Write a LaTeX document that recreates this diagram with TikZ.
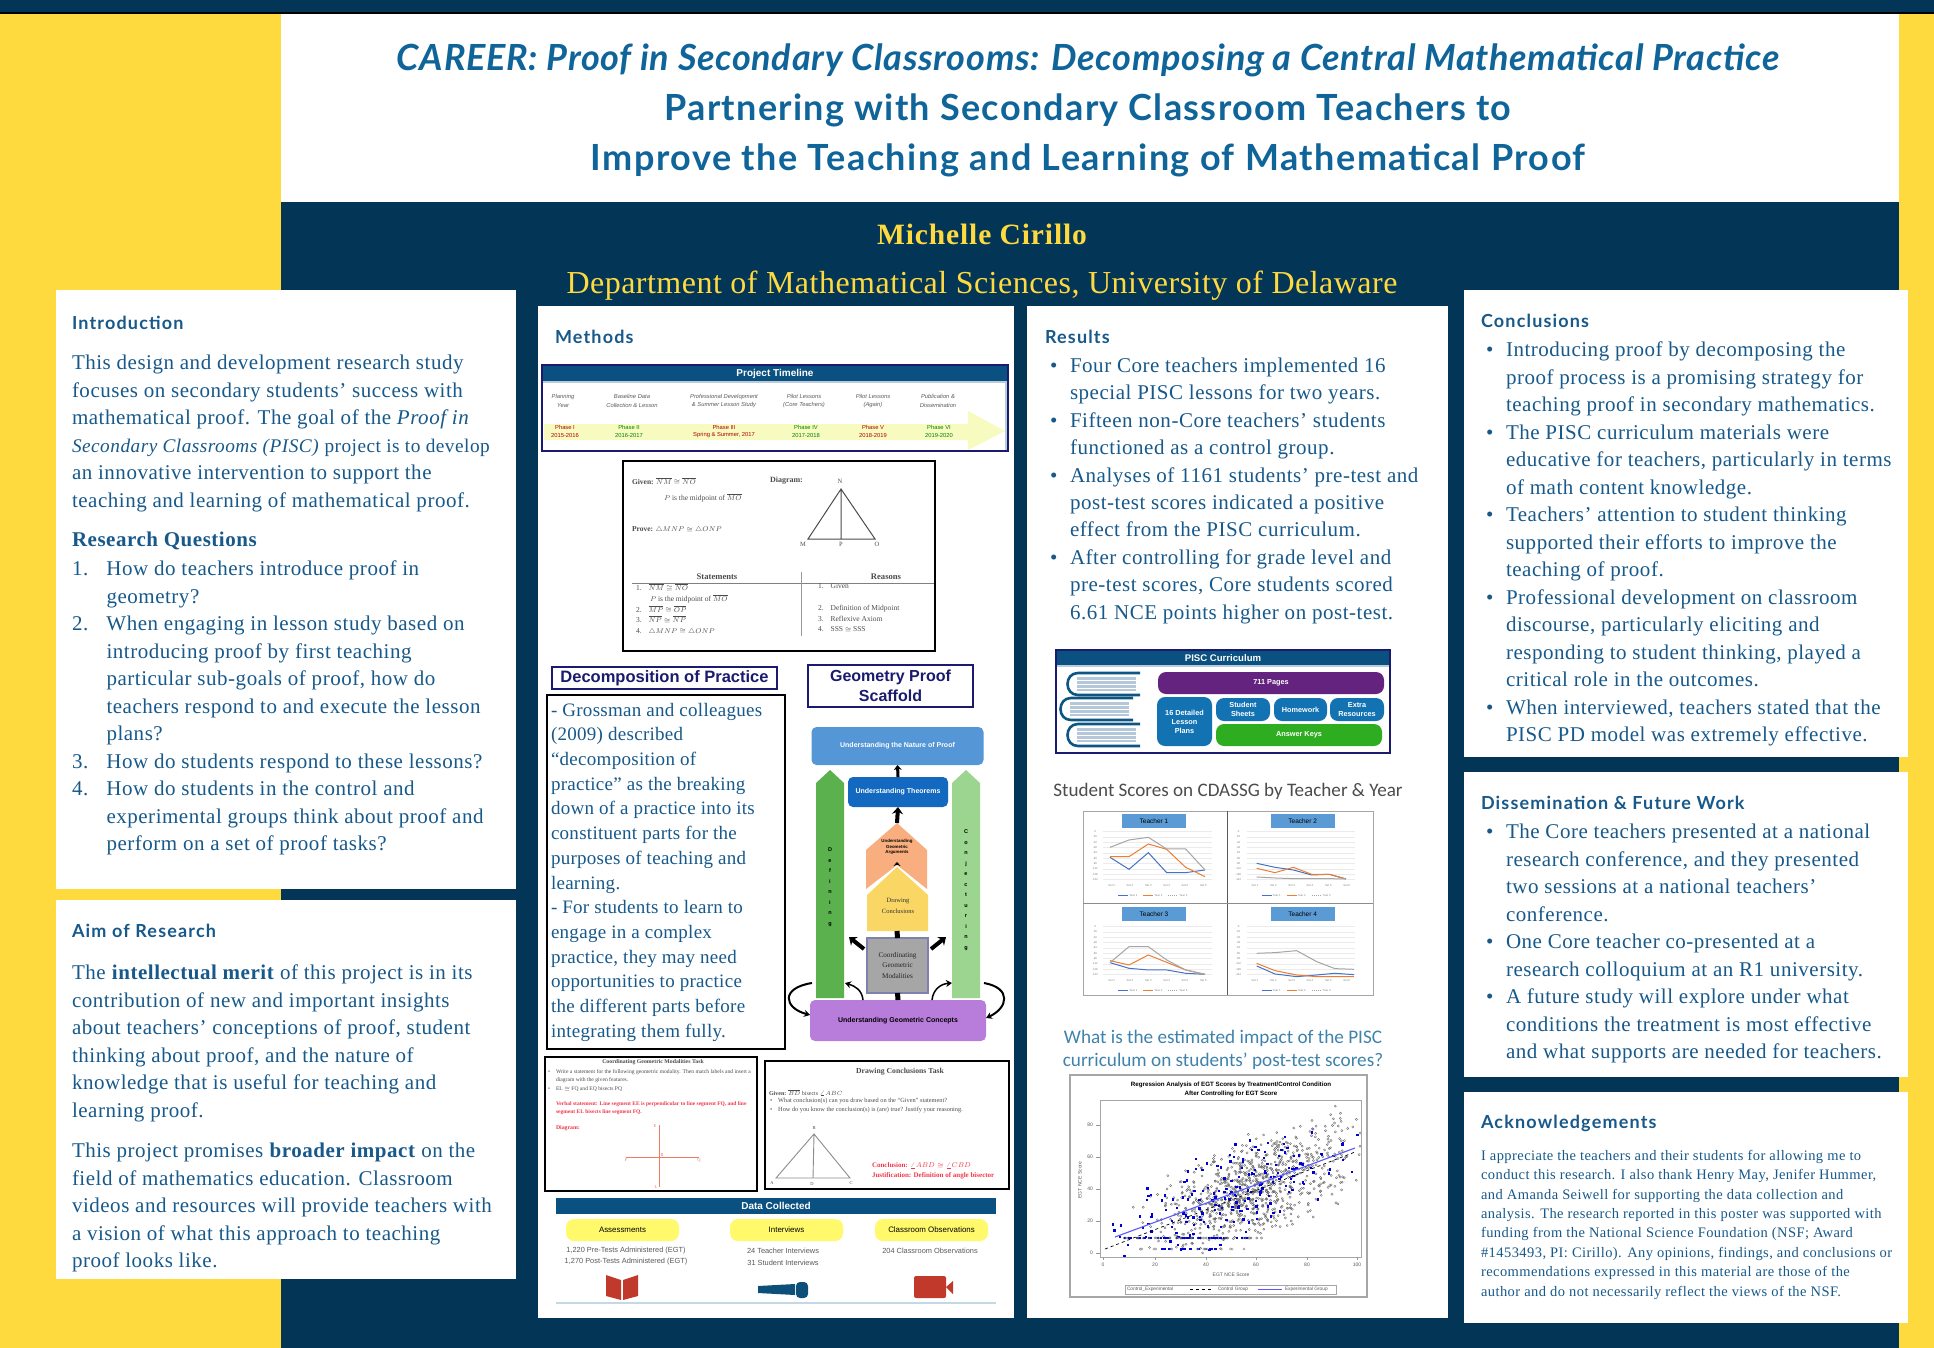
\documentclass[tikz,border=0pt]{standalone}
\usepackage{amsmath}
\usepackage{fontspec}
\setmainfont{Liberation Serif}
\setsansfont{Liberation Sans}
\newfontfamily\headfont[LetterSpace=6.5]{Lato}
\newfontfamily\calfont{Carlito}
\newfontfamily\titlefonta[LetterSpace=2]{Lato}
\newfontfamily\titlefontb[LetterSpace=3.6]{Lato}
\newfontfamily\titlefontc[LetterSpace=4.2]{Lato}
\newfontfamily\bodyfont[LetterSpace=2.5]{Liberation Serif}
\newfontfamily\decompfont[LetterSpace=1.5]{Liberation Serif}
\newfontfamily\ackfont[LetterSpace=3]{Liberation Serif}
\newfontfamily\authorfont[LetterSpace=3]{Liberation Serif}
\newfontfamily\deptfont[LetterSpace=1.5]{Liberation Serif}
\usetikzlibrary{arrows.meta}
\usetikzlibrary{calc}

\definecolor{posternavy}{HTML}{033557}
\definecolor{posteryellow}{HTML}{FFDA3F}
\definecolor{postertext}{HTML}{17598A}
\definecolor{titleblue}{HTML}{0F6499}
\definecolor{bandblue}{HTML}{0A5080}
\definecolor{framenavy}{HTML}{1A1A6E}
\definecolor{pillyellow}{HTML}{FFF96B}
\definecolor{paleyellow}{HTML}{F7FBC0}
\definecolor{taskred}{HTML}{F0384A}
\definecolor{crossred}{HTML}{EE7B62}
\definecolor{iconred}{HTML}{C0392B}
\definecolor{chartblue}{HTML}{4472C4}
\definecolor{chartorange}{HTML}{ED7D31}
\definecolor{chartgray}{HTML}{A5A5A5}
\definecolor{btnblue}{HTML}{5B9BD5}
\definecolor{sepgray}{HTML}{B9CCDC}
\definecolor{leftgreen}{HTML}{5CB14F}
\definecolor{rightgreen}{HTML}{9BD58F}
\definecolor{houseorange}{HTML}{F8AE7E}
\definecolor{houseyellow}{HTML}{FAD765}
\definecolor{topblue}{HTML}{5496D6}
\definecolor{midblue}{HTML}{1269BF}
\definecolor{basepurple}{HTML}{B87CDA}
\definecolor{curepurple}{HTML}{63237F}
\definecolor{cureblue}{HTML}{1272B2}
\definecolor{curegreen}{HTML}{2EAD20}
\definecolor{pagegray}{HTML}{B4C8DA}
\definecolor{ruleblue}{HTML}{C5D8E5}

\newcommand{\blit}{\makebox[20pt][l]{\textbullet}}
\newcommand{\blin}{\hspace*{20pt}}
\newcommand{\nlit}[1]{\makebox[34.5pt][l]{#1}}
\newcommand{\nlin}{\hspace*{34.5pt}}

\tikzset{
    every node/.style={inner sep=0pt,outer sep=0pt},
    heading/.style={anchor=west,font=\headfont\bfseries\fontsize{18}{20}\selectfont,text=postertext},
    bodytext/.style={anchor=north west,align=left,text=postertext,font=\bodyfont\fontsize{21}{27.5}\selectfont},
    decomptext/.style={anchor=north west,align=left,text=postertext,font=\decompfont\fontsize{19}{24.7}\selectfont},
    acktext/.style={anchor=north west,align=left,text=postertext,font=\ackfont\fontsize{14.5}{19.4}\selectfont},
    framebox/.style={draw=framenavy,line width=2pt,fill=white},
    blackbox/.style={draw=black,line width=2.4pt,fill=white},
    boxtitle/.style={font=\sffamily\bfseries,text=framenavy,align=center},
    tiny/.style={font=\fontsize{5}{8}\selectfont,text=black!70,align=left},
    tinysans/.style={font=\sffamily\fontsize{5.4}{8}\selectfont,text=black!65,align=center},
    redtiny/.style={font=\bfseries\fontsize{5.5}{7.5}\selectfont,text=taskred,align=left},
    band/.style={fill=bandblue,text=white,font=\sffamily\bfseries\fontsize{10}{12}\selectfont},
    block/.style={rounded corners=5pt,align=center,font=\sffamily\bfseries\fontsize{7}{9}\selectfont},
    cureblock/.style={block,text=white,font=\sffamily\bfseries\fontsize{7.3}{9}\selectfont,rounded corners=8pt},
    fatarrow/.style={line width=4pt,-{Stealth[length=7pt,width=11pt]}},
    curlarrow/.style={line width=2pt,-{Stealth[length=6pt,width=7pt]}},
    pill/.style={fill=pillyellow,rounded corners=8pt,minimum width=113pt,minimum height=22pt,font=\sffamily\fontsize{7.9}{9}\selectfont},
    teacherbtn/.style={fill=btnblue,minimum width=64pt,minimum height=14pt,font=\sffamily\fontsize{6.5}{7}\selectfont},
    charttick/.style={font=\sffamily\fontsize{2.8}{3}\selectfont,text=black!50},
    serblue/.style={chartblue,line width=1pt},
    serorange/.style={chartorange,line width=1pt},
    sergray/.style={chartgray,line width=1pt},
}

\begin{document}
\begin{tikzpicture}[x=1pt,y=-1pt]
    \useasboundingbox (0,0) rectangle (1934,1348);
    % backgrounds
    \fill[posternavy] (0,0) rectangle (1934,1348);
    \fill[black] (0,12) rectangle (1934,14);
    \fill[posteryellow] (0,14) rectangle (281,1348);
    \fill[posteryellow] (1899,14) rectangle (1934,1348);
    \fill[white] (281,14) rectangle (1899,202);

    % title
    \node[text=titleblue,font=\titlefonta\bfseries\itshape\fontsize{36}{40}\selectfont] (title1) at (1088,60) {CAREER: Proof in Secondary Classrooms: Decomposing a Central Mathematical Practice};
    \node[text=titleblue,font=\titlefontb\bfseries\fontsize{36}{40}\selectfont] (title2) at (1088,110) {Partnering with Secondary Classroom Teachers to};
    \node[text=titleblue,font=\titlefontc\bfseries\fontsize{36}{40}\selectfont] (title3) at (1088,160) {Improve the Teaching and Learning of Mathematical Proof};
    \node[text=posteryellow,font=\authorfont\bfseries\fontsize{29.5}{32}\selectfont] (author) at (982,234) {Michelle Cirillo};
    \node[text=posteryellow,font=\deptfont\fontsize{32}{36}\selectfont] (dept) at (982,286) {Department of Mathematical Sciences, University of Delaware};

    % panels
    \fill[white] (56,290) rectangle (516,889);
    \fill[white] (56,900) rectangle (516,1279);
    \fill[white] (538,306) rectangle (1014,1318);
    \fill[white] (1027,306) rectangle (1448,1318);
    \fill[white] (1464,290) rectangle (1908,757);
    \fill[white] (1464,772) rectangle (1908,1077);
    \fill[white] (1464,1092) rectangle (1908,1323);

    % introduction
    \node[heading] (intro) at (72,323) {Introduction};
    \node[bodytext] (introbody) at (72,355) {This design and development research study\\
        focuses on secondary students’ success with\\
        mathematical proof. The goal of the \textit{Proof in}\\
        {\fontsize{19.3}{27.5}\selectfont\textit{Secondary Classrooms (PISC)} project is to develop}\\
        an innovative intervention to support the\\
        teaching and learning of mathematical proof.};
    \node[bodytext,font=\bodyfont\bfseries\fontsize{21}{27.5}\selectfont] (rq) at (72,532) {Research Questions};
    \node[bodytext] (rqbody) at (72,561) {\nlit{1.}How do teachers introduce proof in\\
        \nlin geometry?\\
        \nlit{2.}When engaging in lesson study based on\\
        \nlin introducing proof by first teaching\\
        \nlin particular sub-goals of proof, how do\\
        \nlin teachers respond to and execute the lesson\\
        \nlin plans?\\
        \nlit{3.}How do students respond to these lessons?\\
        \nlit{4.}How do students in the control and\\
        \nlin experimental groups think about proof and\\
        \nlin perform on a set of proof tasks?};

    % aim
    \node[heading] (aim) at (72,931) {Aim of Research};
    \node[bodytext] (aimbody1) at (72,965) {The \textbf{intellectual merit} of this project is in its\\
        contribution of new and important insights\\
        about teachers’ conceptions of proof, student\\
        thinking about proof, and the nature of\\
        knowledge that is useful for teaching and\\
        learning proof.};
    \node[bodytext] (aimbody2) at (72,1143) {This project promises \textbf{broader impact} on the\\
        field of mathematics education. Classroom\\
        videos and resources will provide teachers with\\
        a vision of what this approach to teaching\\
        proof looks like.};

    % methods
    \node[heading] (methods) at (555,337) {Methods};
    \draw[framebox] (542,365) rectangle (1008,451);
    \node[band,minimum width=464pt,minimum height=15pt] (tlband) at (775,373.5) {Project Timeline};
    \fill[sepgray] (543,381) rectangle (1007,383);
    \fill[sepgray] (1005,383) rectangle (1007,450);
    \fill[paleyellow] (544,424) -- (968,424) -- (968,411) -- (1005,431) -- (968,450) -- (968,440) -- (544,440) -- cycle;
    \foreach \tx/\tname/\px/\pname/\pcol in {563/{Planning\\Year}/565/{Phase I\\2015-2016}/red!70!black,
        632/{Baseline Data\\Collection \& Lesson}/629/{Phase II\\2016-2017}/green!50!black,
        724/{Professional Development\\\& Summer Lesson Study}/724/{Phase III\\Spring \& Summer, 2017}/red!70!black,
        804/{Pilot Lessons\\(Core Teachers)}/806/{Phase IV\\2017-2018}/green!50!black,
        873/{Pilot Lessons\\(Again)}/873/{Phase V\\2018-2019}/red!70!black,
        938/{Publication \&\\Dissemination}/939/{Phase VI\\2019-2020}/green!50!black}{
        \node[tinysans,font=\sffamily\itshape\fontsize{5.8}{8.6}\selectfont] (tl\tx) at (\tx,401) {\tname};
        \node[tinysans,text=\pcol,font=\sffamily\fontsize{5.8}{7.6}\selectfont] (ph\px) at (\px,431.5) {\pname};
    }

    % two column proof
    \draw[blackbox] (623,461) rectangle (935,651);
    \node[tiny,anchor=west,font=\fontsize{7.5}{9}\selectfont] (given) at (632,481) {\textbf{Given:} $\overline{NM}\cong\overline{NO}$};
    \node[tiny,anchor=west,font=\fontsize{7.5}{9}\selectfont] (midp) at (664,498) {$P$ is the midpoint of $\overline{MO}$};
    \node[tiny,anchor=west,font=\fontsize{7.5}{9}\selectfont] (prove) at (632,530) {\textbf{Prove:} $\triangle MNP\cong\triangle ONP$};
    \node[tiny,anchor=west,font=\bfseries\fontsize{8}{9}\selectfont] (diag) at (770,481) {Diagram:};
    \coordinate (triN) at (841,489);
    \coordinate (triM) at (808,539);
    \coordinate (triO) at (875,539);
    \coordinate (triP) at (841,539);
    \draw[black!70,line width=1pt] (triN) -- (triM) -- (triO) -- cycle (triN) -- (triP);
    \node[tiny,font=\fontsize{6.5}{8}\selectfont] (labN) at (840,481) {N};
    \node[tiny,font=\fontsize{6.5}{8}\selectfont] (labM) at (803,544) {M};
    \node[tiny,font=\fontsize{6.5}{8}\selectfont] (labP) at (841,544) {P};
    \node[tiny,font=\fontsize{6.5}{8}\selectfont] (labO) at (877,544) {O};
    \node[tiny,font=\bfseries\fontsize{8.6}{9}\selectfont] (stmts) at (717,577) {Statements};
    \node[tiny,font=\bfseries\fontsize{8.6}{9}\selectfont] (reasons) at (886,577) {Reasons};
    \draw[black!50] (632,583) -- (934,583);
    \draw[black!40] (801,572) -- (801,636);
    \node[tiny,anchor=north west,font=\fontsize{7.5}{10.7}\selectfont] (stlist) at (636,584) {1.\hspace{7pt}$\overline{NM}\cong\overline{NO}$\\
        \hspace{14pt}$P$ is the midpoint of $\overline{MO}$\\
        2.\hspace{7pt}$\overline{MP}\cong\overline{OP}$\\
        3.\hspace{7pt}$\overline{NP}\cong\overline{NP}$\\
        4.\hspace{7pt}$\triangle MNP\cong\triangle ONP$};
    \node[tiny,anchor=north west,font=\fontsize{7.5}{10.7}\selectfont] (rslist) at (818,584) {1.\hspace{7pt}Given\\
        \mbox{}\\
        2.\hspace{7pt}Definition of Midpoint\\
        3.\hspace{7pt}Reflexive Axiom\\
        4.\hspace{7pt}SSS $\cong$ SSS};

    % decomposition
    \node[framebox,boxtitle,font=\sffamily\bfseries\fontsize{16.5}{20}\selectfont,minimum width=225pt,minimum height=22pt] (decomp) at (664.5,678) {Decomposition of Practice};
    \node[framebox,boxtitle,font=\sffamily\bfseries\fontsize{16}{19.5}\selectfont,minimum width=165pt,minimum height=42pt] (scaffold) at (890.5,686) {Geometry Proof\\Scaffold};
    \draw[black,line width=1.8pt,fill=white] (547,695) rectangle (785,1049);
    \node[decomptext] (decompbody) at (551,703) {- Grossman and colleagues\\
        (2009) described\\
        “decomposition of\\
        practice” as the breaking\\
        down of a practice into its\\
        constituent parts for the\\
        purposes of teaching and\\
        learning.\\
        - For students to learn to\\
        engage in a complex\\
        practice, they may need\\
        opportunities to practice\\
        the different parts before\\
        integrating them fully.};

    % scaffold
    \fill[leftgreen] (816,998) -- (816,783) -- (830,770) -- (844,783) -- (844,998) -- cycle;
    \fill[rightgreen] (952,998) -- (952,783) -- (966,770) -- (980,783) -- (980,998) -- cycle;
    \node[tiny,align=center,text=black,font=\sffamily\bfseries\fontsize{5.5}{10.5}\selectfont,anchor=north] (defining) at (830,848) {D\\e\\f\\i\\n\\i\\n\\g};
    \node[tiny,align=center,text=black,font=\sffamily\bfseries\fontsize{5.5}{10.5}\selectfont,anchor=north] (conject) at (966,830) {C\\o\\n\\j\\e\\c\\t\\u\\r\\i\\n\\g};
    \node[block,fill=topblue,text=white,minimum width=172pt,minimum height=38pt] (natureproof) at (897.5,746) {Understanding the Nature of Proof};
    \node[block,fill=midblue,text=white,minimum width=100pt,minimum height=30pt] (theorems) at (898,792) {Understanding Theorems};
    \fill[houseorange] (866,850) -- (897,823) -- (927,850) -- (927,889) -- (897,865) -- (866,889) -- cycle;
    \coordinate (ortip) at (897,823);
    \coordinate (ornotch) at (897,865);
    \node[tiny,align=center,text=black,font=\sffamily\bfseries\fontsize{4.4}{5.4}\selectfont] (orangetxt) at (897,847) {Understanding\\Geometric\\Arguments};
    \fill[houseyellow] (867,895) -- (897,867) -- (928,895) -- (928,931) -- (867,931) -- cycle;
    \coordinate (yetip) at (897,867);
    \coordinate (yebase) at (897,931);
    \node[tiny,align=center,text=black!80,font=\fontsize{6.5}{11.5}\selectfont] (drawing) at (898,906) {Drawing\\Conclusions};
    \node[draw=black!65!blue!50,line width=1.5pt,fill=black!35,minimum width=61pt,minimum height=55pt,align=center,font=\fontsize{7.2}{10.5}\selectfont,text=black!85] (coord) at (897.5,965.5) {Coordinating\\Geometric\\Modalities};
    \node[block,fill=basepurple,minimum width=176pt,minimum height=41pt] (concepts) at (898,1020.5) {Understanding Geometric Concepts};
    \draw[fatarrow,line width=3pt,-{Stealth[length=5pt,width=8pt]}] (theorems.north) -- (natureproof.south);
    \draw[fatarrow] (ortip) -- (theorems.south);
    \draw[fatarrow,line width=1.5pt,-{Stealth[length=4pt,width=7pt]}] ($(ornotch)+(0,-1)$) -- (yetip |- 0,862);
    \draw[line width=5pt] (coord.north) -- (yebase);
    \draw[line width=5pt] (concepts.north) -- (coord.south);
    \draw[fatarrow] (coord.north west)++(-3,11) -- ++(-15,-12);
    \draw[fatarrow] (coord.north east)++(3,11) -- ++(15,-12);
    \coordinate (outerL) at (812,983);
    \coordinate (outerR) at (984,983);
    \draw[curlarrow] (outerL) .. controls (780,988) and (784,1008) .. (concepts.west |- 0,1015);
    \draw[curlarrow] (outerR) .. controls (1012,988) and (1008,1008) .. (concepts.east |- 0,1018);
    \coordinate (innerL) at (863,1000);
    \coordinate (innerLtip) at (845,983);
    \coordinate (innerR) at (932,1000);
    \coordinate (innerRtip) at (952,983);
    \draw[curlarrow,line width=1.5pt] (innerL) .. controls (862,990) and (855,986) .. (innerLtip);
    \draw[curlarrow,line width=1.5pt] (innerR) .. controls (933,990) and (940,984) .. (innerRtip);

    % tasks
    \draw[blackbox] (545,1057) rectangle (757,1191);
    \node[tiny,font=\bfseries\fontsize{5.8}{7}\selectfont] (task1) at (653,1062) {Coordinating Geometric Modalities Task};
    \node[tiny,anchor=north west,font=\fontsize{5.6}{7.4}\selectfont] (task1a) at (548,1070) {\makebox[8pt][l]{\textbullet}Write a statement for the following geometric modality. Then match labels and insert a\\
        \hspace*{8pt}diagram with the given features.\\[2pt]
        \makebox[8pt][l]{\textbullet}EL $\cong$ FQ and EQ bisects PQ};
    \node[redtiny,anchor=north west] (task1b) at (556,1102) {Verbal statement: Line segment EE is perpendicular to line segment FQ, and line\\
        segment EL bisects line segment FQ.};
    \node[redtiny,anchor=west,font=\bfseries\fontsize{5.8}{7}\selectfont] (task1c) at (556,1128) {Diagram:};
    \draw[crossred,line width=.8pt] (659,1125) -- (659,1187) (626,1157) -- (699,1157);
    \node[redtiny,font=\fontsize{4.5}{5}\selectfont,text=crossred] (labE) at (655,1126) {E};
    \node[redtiny,font=\fontsize{4.5}{5}\selectfont,text=crossred] (labL) at (656,1187) {L};
    \node[redtiny,font=\fontsize{4.5}{5}\selectfont,text=crossred] (labF) at (626,1160) {F};
    \node[redtiny,font=\fontsize{4.5}{5}\selectfont,text=crossred] (labQ) at (699,1160) {Q};
    \node[redtiny,font=\fontsize{4.5}{5}\selectfont,text=crossred] (labR) at (662,1155) {R};
    \draw[blackbox] (765,1061) rectangle (1009,1189);
    \node[tiny,font=\bfseries\fontsize{7.7}{8}\selectfont] (task2) at (900,1072) {Drawing Conclusions Task};
    \node[tiny,anchor=west,font=\fontsize{6}{8}\selectfont] (task2a) at (769,1093) {\textbf{Given:} $\overline{BD}$ bisects $\angle ABC$};
    \node[tiny,anchor=north west,font=\fontsize{6.3}{9.6}\selectfont] (task2b) at (770,1098) {\textbullet\hspace{6pt}What conclusion(s) can you draw based on the ``Given'' statement?\\
        \textbullet\hspace{6pt}How do you know the conclusion(s) is (are) true? Justify your reasoning.};
    \coordinate (triB) at (814,1134);
    \coordinate (triA) at (776,1178);
    \coordinate (triC) at (850,1178);
    \coordinate (triD) at (813,1178);
    \draw[black!45,line width=.9pt] (triB) -- (triA) -- (triC) -- cycle (triB) -- (triD);
    \node[tiny,font=\fontsize{4.5}{5}\selectfont] (labB) at (814,1128) {B};
    \node[tiny,font=\fontsize{4.5}{5}\selectfont] (labA) at (772,1183) {A};
    \node[tiny,font=\fontsize{4.5}{5}\selectfont] (labD) at (812,1184) {D};
    \node[tiny,font=\fontsize{4.5}{5}\selectfont] (labC) at (851,1183) {C};
    \node[redtiny,anchor=north west,font=\bfseries\fontsize{7}{10}\selectfont] (task2c) at (872,1163) {Conclusion: $\angle ABD\cong\angle CBD$\\Justification: Definition of angle bisector};

    % data collected
    \node[band,minimum width=440pt,minimum height=16pt] (databand) at (776,1206) {Data Collected};
    \node[pill] (assess) at (622.5,1230) {Assessments};
    \node[pill] (interv) at (786.5,1230) {Interviews};
    \node[pill] (observ) at (931.5,1230) {Classroom Observations};
    \node[tinysans,font=\sffamily\fontsize{7.4}{11.7}\selectfont] (assesstxt) at (626,1256) {1,220 Pre-Tests Administered (EGT)\\1,270 Post-Tests Administered (EGT)};
    \node[tinysans,font=\sffamily\fontsize{7.4}{11.7}\selectfont] (intervtxt) at (783,1257) {24 Teacher Interviews\\31 Student Interviews};
    \node[tinysans,font=\sffamily\fontsize{7.4}{11.7}\selectfont] (observtxt) at (930,1251) {204 Classroom Observations};
    \fill[iconred] (606,1275) -- (621,1280) -- (621,1300) -- (606,1296) -- cycle;
    \fill[iconred] (638,1275) -- (623,1280) -- (623,1300) -- (638,1296) -- cycle;
    \fill[titleblue!80!black] (758,1286) -- (795,1284) -- (795,1295) -- (758,1293) -- cycle;
    \fill[titleblue!80!black,rounded corners=4pt] (796,1282) rectangle (808,1298);
    \fill[iconred,rounded corners=2pt] (914,1276) rectangle (946,1298);
    \fill[iconred] (946,1287) -- (953,1281) -- (953,1294) -- cycle;
    \draw[ruleblue,line width=1.2pt] (556,1303) -- (996,1303);

    % results
    \node[heading] (results) at (1045,337) {Results};
    \node[bodytext,font=\bodyfont\fontsize{21}{27.4}\selectfont] (resbody) at (1050,358) {\blit Four Core teachers implemented 16\\
        \blin special PISC lessons for two years.\\
        \blit Fifteen non-Core teachers’ students\\
        \blin functioned as a control group.\\
        \blit Analyses of 1161 students’ pre-test and\\
        \blin post-test scores indicated a positive\\
        \blin effect from the PISC curriculum.\\
        \blit After controlling for grade level and\\
        \blin pre-test scores, Core students scored\\
        \blin 6.61 NCE points higher on post-test.};

    % curriculum
    \draw[framebox] (1056,650) rectangle (1390,753);
    \node[band,font=\sffamily\bfseries\fontsize{9.6}{11}\selectfont,minimum width=332pt,minimum height=14pt] (curband) at (1223,658) {PISC Curriculum};
    \fill[sepgray] (1057,665) rectangle (1389,667);
    \foreach \bx/\by in {1067/673,1060/698,1067/724}{
        \fill[pagegray] (\bx+10,\by+4) rectangle (\bx+69,\by+18);
        \foreach \pg in {7,11,15}{
            \draw[white,line width=.8pt] (\bx+10,\by+\pg) -- (\bx+69,\by+\pg);
        }
        \draw[titleblue!85!black,line width=2.6pt] (\bx+73,\by) -- (\bx+11,\by) .. controls (\bx-3,\by) and (\bx-3,\by+22) .. (\bx+11,\by+22) -- (\bx+73,\by+22);
    }
    \node[cureblock,fill=curepurple,minimum width=226pt,minimum height=22pt] (pages) at (1271,683) {711 Pages};
    \node[cureblock,fill=cureblue,minimum width=55pt,minimum height=49pt] (lessons) at (1184.5,721.5) {16 Detailed\\Lesson\\Plans};
    \node[cureblock,fill=cureblue,minimum width=54pt,minimum height=23pt] (sheets) at (1243,709.5) {Student\\Sheets};
    \node[cureblock,fill=cureblue,minimum width=53pt,minimum height=23pt] (homework) at (1300.5,709.5) {Homework};
    \node[cureblock,fill=cureblue,minimum width=54pt,minimum height=23pt] (extra) at (1357,709.5) {Extra\\Resources};
    \node[cureblock,fill=curegreen,minimum width=166pt,minimum height=22pt] (keys) at (1299,735) {Answer Keys};

    % line charts
    \node[font=\calfont\fontsize{19.1}{22}\selectfont,text=black!70] (chartstitle) at (1228,791) {Student Scores on CDASSG by Teacher \& Year};
    \draw[black!35,line width=.8pt] (1083,811) rectangle (1373,995);
    \draw[black!65,line width=.6pt] (1227,811) -- (1227,995);
    \draw[black!45,line width=.6pt] (1083,903) -- (1373,903);
    \begin{scope}[shift={(1040,640)},x=.3333pt,y=-.3333pt]
        \foreach \gx/\gy in {190/0,620/0,190/285,620/285}{
            \foreach \gl in {0,16,...,145}{
                \draw[black!8,line width=.4pt] (\gx,575+\gy+\gl) -- (\gx+325,575+\gy+\gl);
            }
            \foreach \tk in {0,16,...,145}{
                \node[charttick] at (\gx-25,575+\gy+\tk) {.\tk};
            }
            \foreach \lx/\lname in {25/Set 1,80/Set 2,135/Set 3,190/Set 4,245/Set 5,300/Set 6}{
                \node[charttick] at (\gx+\lx,738+\gy) {\lname};
            }
            \draw[serblue] (\gx+45,767+\gy) -- (\gx+75,767+\gy);
            \node[charttick] at (\gx+90,767+\gy) {Year 1};
            \draw[serorange] (\gx+120,767+\gy) -- (\gx+150,767+\gy);
            \node[charttick] at (\gx+165,767+\gy) {Year 2};
            \draw[sergray,densely dotted] (\gx+195,767+\gy) -- (\gx+225,767+\gy);
            \node[charttick] at (\gx+240,767+\gy) {Year 3};
        }
        \node[teacherbtn] (teach1) at (342,543) {Teacher 1};
        \node[teacherbtn] (teach2) at (788,543) {Teacher 2};
        \node[teacherbtn] (teach3) at (342,823) {Teacher 3};
        \node[teacherbtn] (teach4) at (788,823) {Teacher 4};
        \draw[serblue] (210,652) -- (267,688) -- (325,638) -- (380,698) -- (437,698) -- (495,690);
        \draw[serorange] (210,650) -- (267,650) -- (325,612) -- (380,628) -- (437,682) -- (495,710);
        \draw[sergray] (210,622) -- (267,600) -- (325,592) -- (380,627) -- (437,627) -- (495,690);
        \draw[serblue] (650,670) -- (705,682) -- (760,690) -- (815,705) -- (868,703) -- (918,717);
        \draw[serorange] (650,685) -- (705,698) -- (760,682) -- (815,703) -- (868,703) -- (918,717);
        \draw[sergray] (650,711) -- (705,714) -- (760,716) -- (815,716) -- (868,716) -- (918,717);
        \draw[serblue] (210,968) -- (267,985) -- (325,990) -- (380,990) -- (437,1000) -- (495,1003);
        \draw[serorange] (210,962) -- (267,975) -- (325,945) -- (380,967) -- (437,990) -- (495,1003);
        \draw[sergray] (210,968) -- (267,920) -- (325,920) -- (380,960) -- (437,990) -- (495,1003);
        \draw[serblue] (650,978) -- (705,1002) -- (770,1010) -- (830,1005) -- (885,1000) -- (942,1004);
        \draw[serorange] (650,970) -- (705,992) -- (770,1005) -- (830,1010) -- (885,1010) -- (942,1010);
        \draw[sergray] (650,940) -- (705,938) -- (770,932) -- (830,965) -- (885,986) -- (942,988);
    \end{scope}

    % regression
    \node[font=\calfont\fontsize{19.2}{23}\selectfont,text=titleblue!80!white,align=center] (question) at (1223,1050) {What is the estimated impact of the PISC\\curriculum on students’ post-test scores?};
    \draw[black!35,line width=1.2pt] (1070,1075) rectangle (1367,1297);
    \node[tinysans,text=black,font=\sffamily\bfseries\fontsize{6.2}{9}\selectfont] (regtitle) at (1231,1089.5) {Regression Analysis of EGT Scores by Treatment/Control Condition\\After Controlling for EGT Score};
    \begin{scope}
        \clip (1100,1100) rectangle (1361,1257);
        \pgfmathsetseed{1934}
        \foreach \i in {1,...,900}{
            \pgfmathsetmacro\ex{60+32*(rnd+rnd+rnd+rnd-2)}
            \pgfmathsetmacro\ey{9+.55*\ex+34*(rnd+rnd-1)}
            \draw[black!60,line width=.35pt] (1103+2.54*\ex,1253-1.6*\ey) circle (1.1pt);
        }
        \foreach \i in {1,...,190}{
            \pgfmathsetmacro\ex{52+44*(rnd+rnd+rnd-1.5)}
            \pgfmathsetmacro\ey{9+.55*\ex+34*(rnd+rnd-1)}
            \fill[blue!85!black] (1103+2.54*\ex-1.2,1253-1.6*\ey-1.2) rectangle ++(2.4,2.4);
        }
        \foreach \i in {1,...,45}{
            \pgfmathsetmacro\ex{8+55*rnd}
            \draw[black!60,line width=.35pt] (1103+2.54*\ex,1238) circle (1.1pt);
            \pgfmathsetmacro\fx{8+50*rnd}
            \fill[blue!85!black] (1103+2.54*\fx-1.2,1238-1.2) rectangle ++(2.4,2.4);
        }
        \foreach \i in {1,...,14}{
            \pgfmathsetmacro\ex{12+45*rnd}
            \draw[black!45,line width=.35pt] (1103+2.54*\ex,1249) circle (1.1pt);
            \pgfmathsetmacro\fx{22+25*rnd}
            \fill[blue!85!black] (1103+2.54*\fx-1.2,1249-1.2) rectangle ++(2.4,2.4);
        }
    \end{scope}
    \draw[black!35,line width=.9pt] (1100,1100) rectangle (1361,1257);
    \coordinate (blueL) at (1115,1237);
    \coordinate (blueR) at (1355,1148);
    \coordinate (dashL) at (1105,1249);
    \coordinate (dashR) at (1355,1152);
    \draw[black,dashed,line width=.7pt] (dashL) -- (dashR);
    \draw[blue!65!white,line width=1.1pt] (blueL) -- (blueR);
    \foreach \ty/\tl in {1125/80,1157/60,1189/40,1221/20,1253/0}{
        \node[tinysans,font=\sffamily\fontsize{5}{6}\selectfont,anchor=east] (yt\tl) at (1093,\ty) {\tl};
        \draw[black!40] (1096,\ty) -- (1100,\ty);
    }
    \foreach \tx/\tl in {1103/0,1155/20,1206/40,1256/60,1307/80,1357/100}{
        \node[tinysans,font=\sffamily\fontsize{5}{6}\selectfont] (xt\tl) at (\tx,1265) {\tl};
        \draw[black!40] (\tx,1257) -- (\tx,1260);
    }
    \node[tinysans,font=\sffamily\fontsize{5}{6}\selectfont] (xlab) at (1231,1275) {EGT NCE Score};
    \node[tinysans,font=\sffamily\fontsize{5}{6}\selectfont,rotate=90] (ylab) at (1080,1180) {EGT NCE Score};
    \draw[black!35] (1125,1285) rectangle (1336,1294);
    \node[tinysans,font=\sffamily\fontsize{4.8}{6}\selectfont,anchor=west] (legA) at (1127,1289.5) {Control\_Experimental};
    \coordinate (legB1) at (1190,1289.5);
    \coordinate (legB2) at (1214,1289.5);
    \draw[black,dashed,line width=.7pt] (legB1) -- (legB2);
    \node[tinysans,font=\sffamily\fontsize{4.8}{6}\selectfont,anchor=west] (legB) at (1218,1289.5) {Control Group};
    \coordinate (legC1) at (1258,1289.5);
    \coordinate (legC2) at (1282,1289.5);
    \draw[blue!65!white,line width=1pt] (legC1) -- (legC2);
    \node[tinysans,font=\sffamily\fontsize{4.8}{6}\selectfont,anchor=west] (legC) at (1285,1289.5) {Experimental Group};

    % conclusions
    \node[heading] (concl) at (1481,321) {Conclusions};
    \node[bodytext] (conclbody) at (1486,342) {\blit Introducing proof by decomposing the\\
        \blin proof process is a promising strategy for\\
        \blin teaching proof in secondary mathematics.\\
        \blit The PISC curriculum materials were\\
        \blin educative for teachers, particularly in terms\\
        \blin of math content knowledge.\\
        \blit Teachers’ attention to student thinking\\
        \blin supported their efforts to improve the\\
        \blin teaching of proof.\\
        \blit Professional development on classroom\\
        \blin discourse, particularly eliciting and\\
        \blin responding to student thinking, played a\\
        \blin critical role in the outcomes.\\
        \blit When interviewed, teachers stated that the\\
        \blin PISC PD model was extremely effective.};

    % dissemination
    \node[heading] (dissem) at (1481,803) {Dissemination \& Future Work};
    \node[bodytext] (dissembody) at (1486,824) {\blit The Core teachers presented at a national\\
        \blin research conference, and they presented\\
        \blin two sessions at a national teachers’\\
        \blin conference.\\
        \blit One Core teacher co-presented at a\\
        \blin research colloquium at an R1 university.\\
        \blit A future study will explore under what\\
        \blin conditions the treatment is most effective\\
        \blin and what supports are needed for teachers.};

    % acknowledgements
    \node[heading] (ack) at (1481,1123.5) {Acknowledgements};
    \node[acktext] (ackbody) at (1481,1150) {I appreciate the teachers and their students for allowing me to\\
        conduct this research. I also thank Henry May, Jenifer Hummer,\\
        and Amanda Seiwell for supporting the data collection and\\
        analysis. The research reported in this poster was supported with\\
        funding from the National Science Foundation (NSF; Award\\
        \#1453493, PI: Cirillo). Any opinions, findings, and conclusions or\\
        recommendations expressed in this material are those of the\\
        author and do not necessarily reflect the views of the NSF.};
\end{tikzpicture}
\end{document}
